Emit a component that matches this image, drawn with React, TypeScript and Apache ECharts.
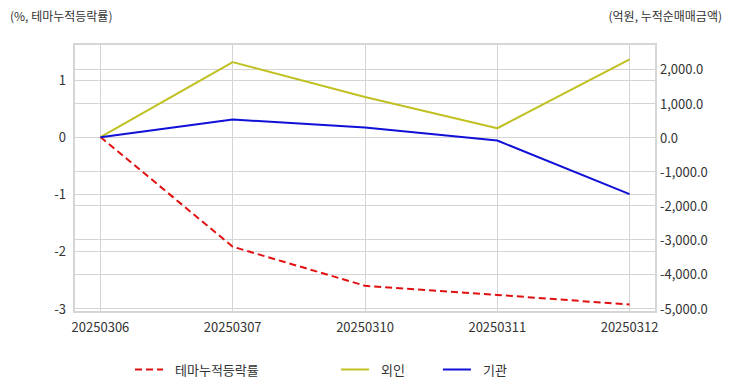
import React, { useEffect, useRef } from "react";
import * as echarts from "echarts";

const categories = ["20250306", "20250307", "20250310", "20250311", "20250312"];
const themeRate = [0, -1.925, -2.61, -2.77, -2.94];
const foreign = [0, 2200, 1178, 263, 2280];
const institution = [0, 517, 283, -97, -1667];
const leftTicks = [-3, -2, -1, 0, 1];
const rightTicks = [-5000, -4000, -3000, -2000, -1000, 0, 1000, 2000];

const FONT = "'Noto Sans CJK KR', 'Noto Sans', sans-serif";

export default function App() {
  const ref = useRef<HTMLDivElement>(null);
  useEffect(() => {
    if (!ref.current) return;
    const chart = echarts.init(ref.current, undefined, { renderer: "svg" });
    const idx = categories.map((_, i) => i);
    const legendCommon = {
      top: 358, itemWidth: 28, itemHeight: 14,
      itemStyle: { opacity: 0 },
      textStyle: { fontSize: 13, color: "#333", fontFamily: FONT, padding: [0, 0, 0, 7] },
    };
    chart.setOption({
      animation: false,
      textStyle: { fontFamily: FONT },
      graphic: [
        { type: "text", left: 10, top: 9, style: { text: "(%, 테마누적등락률)", fontSize: 12, fill: "#333", fontFamily: FONT } },
        { type: "text", right: 10, top: 9, style: { text: "(억원, 누적순매매금액)", fontSize: 12, fill: "#333", fontFamily: FONT } },
      ],
      grid: {
        left: 74, right: 76, top: 44, bottom: 80,
        show: true, borderColor: "#d6d6d6", borderWidth: 2,
      },
      legend: [
        { ...legendCommon, data: [{ name: "테마누적등락률" }], left: 129, itemGap: 28 },
        { ...legendCommon, data: [{ name: "외인" }, { name: "기관" }], left: 335, itemGap: 37 },
      ],
      xAxis: {
        type: "value",
        min: -0.2, max: 4.2,
        axisLine: { show: false },
        axisTick: { show: false, customValues: idx },
        splitLine: { show: true, lineStyle: { color: "#d4d4d4", width: 1 } },
        axisLabel: {
          customValues: idx,
          formatter: (v: number) => categories[Math.round(v)] ?? "",
          fontSize: 13, color: "#333", margin: 8,
        },
      },
      yAxis: [
        {
          type: "value",
          min: -3.07, max: 1.63,
          axisLine: { show: false },
          axisTick: { show: false, customValues: leftTicks },
          splitLine: { show: true, lineStyle: { color: "#d4d4d4", width: 1 } },
          axisLabel: { customValues: leftTicks, fontSize: 13, color: "#333", margin: 8 },
        },
        {
          type: "value",
          min: -5117, max: 2730,
          axisLine: { show: false },
          axisTick: { show: false, customValues: rightTicks },
          splitLine: { show: true, lineStyle: { color: "#d4d4d4", width: 1 } },
          axisLabel: {
            customValues: rightTicks,
            fontSize: 13, color: "#333", margin: 4,
            formatter: (v: number) =>
              v.toLocaleString("en-US", { minimumFractionDigits: 1, maximumFractionDigits: 1 }),
          },
        },
      ],
      series: [
        {
          name: "테마누적등락률", type: "line", yAxisIndex: 0,
          data: themeRate.map((v, i) => [i, v]),
          symbol: "none", color: "#e01010",
          lineStyle: { width: 2, type: [7, 4], color: "#e01010" },
        },
        {
          name: "외인", type: "line", yAxisIndex: 1,
          data: foreign.map((v, i) => [i, v]),
          symbol: "none", color: "#c0c020",
          lineStyle: { width: 2, color: "#c0c020" },
        },
        {
          name: "기관", type: "line", yAxisIndex: 1,
          data: institution.map((v, i) => [i, v]),
          symbol: "none", color: "#1010d8",
          lineStyle: { width: 2, color: "#1010d8" },
        },
      ],
    });
    return () => chart.dispose();
  }, []);
  return <div ref={ref} style={{ width: 732, height: 392, position: "absolute", left: 0, top: 0 }} />;
}
